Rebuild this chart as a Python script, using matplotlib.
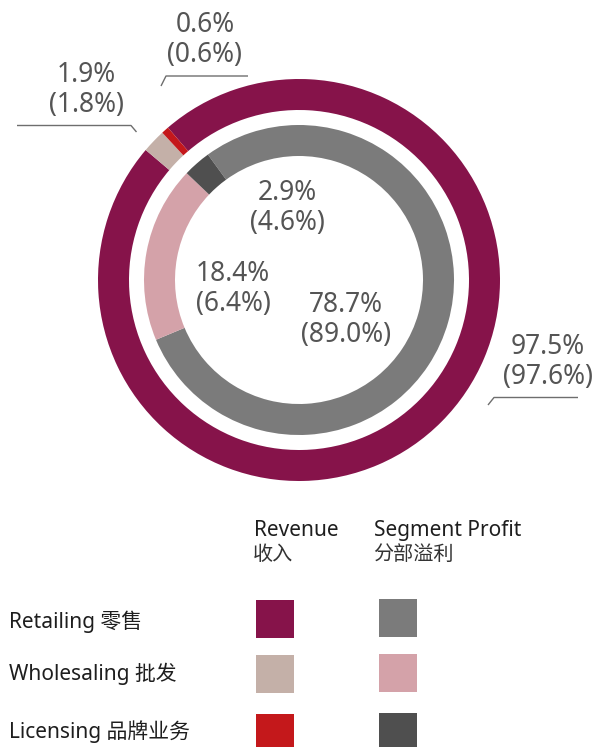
import matplotlib
matplotlib.use("Agg")
import matplotlib.pyplot as plt
from matplotlib.patches import Rectangle

# ---- data ----
segments = ["Retailing 零售", "Wholesaling 批发", "Licensing 品牌业务"]
revenue_share = [97.5, 1.9, 0.6]
revenue_prev = [97.6, 1.8, 0.6]
profit_share = [78.7, 18.4, 2.9]
profit_prev = [89.0, 6.4, 4.6]
legend_headers = ["Revenue\n收入", "Segment Profit\n分部溢利"]

revenue_colors = ["#86134A", "#C4B0A8", "#C4181B"]
profit_colors = ["#7B7B7B", "#D4A2A9", "#4F4F4F"]

W, H = 597, 747
fig = plt.figure(figsize=(W / 100, H / 100), dpi=100)
ax = fig.add_axes([0, 0, 1, 1])

def Y(y):
    return H - y

cx, cy = 299, Y(280)

ax.pie(revenue_share, radius=201, center=(cx, cy), startangle=130.7,
       counterclock=False, colors=revenue_colors,
       wedgeprops=dict(width=31, linewidth=0))
ax.pie(profit_share, radius=155, center=(cx, cy), startangle=126,
       counterclock=False, colors=profit_colors,
       wedgeprops=dict(width=31, linewidth=0))

ax.set_xlim(0, W)
ax.set_ylim(0, H)
ax.set_aspect("equal")
ax.axis("off")

pct_font = ["Noto Sans", "DejaVu Sans"]
pct_color = "#555555"
line_color = "#6E6E6E"

# label positions (px, center) for revenue and profit labels
rev_label_pos = [(548, 362), (86, 90), (205, 40)]
prof_label_pos = [(346, 320), (233, 289), (287, 208)]

for (x, y), cur, prev in zip(rev_label_pos, revenue_share, revenue_prev):
    ax.text(x, Y(y), f"{cur:.1f}%\n({prev:.1f}%)", ha="center", va="center",
            fontsize=19, color=pct_color, family=pct_font, weight="medium",
            linespacing=1.14)
for (x, y), cur, prev in zip(prof_label_pos, profit_share, profit_prev):
    ax.text(x, Y(y), f"{cur:.1f}%\n({prev:.1f}%)", ha="center", va="center",
            fontsize=19, color=pct_color, family=pct_font, weight="medium",
            linespacing=1.14)

# leader lines
leaders = [
    [(488, 405), (494, 397.5), (578, 397.5)],
    [(136.5, 132), (131, 125.5), (17, 125.5)],
    [(161, 86), (166, 76), (248, 76)],
]
for pts in leaders:
    xs = [p[0] for p in pts]
    ys = [Y(p[1]) for p in pts]
    ax.plot(xs, ys, color=line_color, lw=1.0, solid_capstyle="butt")

# legend
leg_font = ["Noto Sans", "Noto Sans CJK SC", "DejaVu Sans"]
leg_color = "#1E1E1E"
header_x = [254, 374]
for hx, hdr in zip(header_x, legend_headers):
    en, zh = hdr.split("\n")
    ax.text(hx, Y(536), en, ha="left", va="baseline", fontsize=15,
            color=leg_color, family=leg_font)
    ax.text(hx - 1, Y(560), zh, ha="left", va="baseline", fontsize=14.5,
            color="#333333", family=leg_font)

row_baselines = [627.7, 680, 738.3]
row_tops = [600, 655, 714]
sq = 38
for i, name in enumerate(segments):
    ax.text(9, Y(row_baselines[i]), name, ha="left", va="baseline",
            fontsize=15, color=leg_color, family=leg_font)
    ax.add_patch(Rectangle((256, Y(row_tops[i] + sq)), sq, sq,
                           facecolor=revenue_colors[i], edgecolor="none"))
    ax.add_patch(Rectangle((379, Y(row_tops[i] - 1 + sq)), sq, sq,
                           facecolor=profit_colors[i], edgecolor="none"))

fig.savefig("out.png", dpi=100, facecolor="white")
